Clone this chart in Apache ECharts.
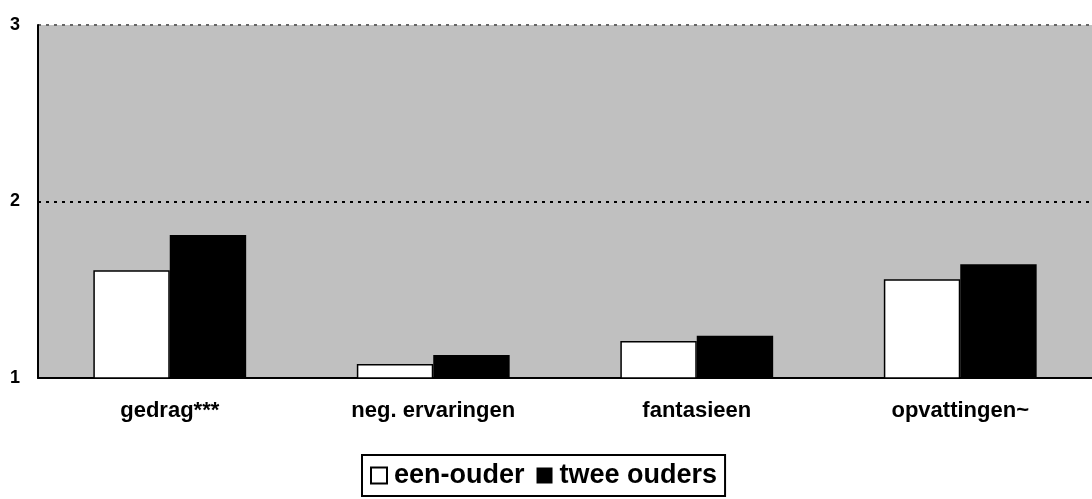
<!DOCTYPE html>
<html>
<head>
<meta charset="utf-8">
<script src="https://cdn.jsdelivr.net/npm/echarts@6/dist/echarts.min.js"></script>
<style>
html,body{margin:0;padding:0;background:#fff}
#main{width:1092px;height:499px}
</style>
</head>
<body>
<div id="main"></div>
<script>
// categorieen en gemiddelden
var categories = ['gedrag***', 'neg. ervaringen', 'fantasieen', 'opvattingen~']
var eenOuder = [1.61, 1.08, 1.21, 1.56]
var tweeOuders = [1.81, 1.13, 1.24, 1.645]
var yTicks = [1, 2, 3]

var myChart = echarts.init(document.getElementById('main'))

var option = {
    animation: false,
    textStyle: { fontFamily: 'Liberation Sans, Arial, sans-serif' },
    legend: {
        data: ['een-ouder', 'twee ouders'],
        left: 362,
        top: 455,
        icon: 'rect',
        itemWidth: 16,
        itemHeight: 16,
        itemGap: 12,
        padding: [7, 8, 7, 8],
        borderColor: '#000',
        borderWidth: 2,
        borderRadius: 0,
        textStyle: { fontSize: 27, fontWeight: 'bold', color: '#000', padding: [0, 0, 0, 2] }
    },
    grid: {
        left: 38,
        right: 0,
        top: 25,
        bottom: 121,
        show: true,
        backgroundColor: '#c0c0c0',
        borderWidth: 0
    },
    xAxis: {
        type: 'category',
        data: categories,
        axisLine: { lineStyle: { color: '#000', width: 2 } },
        axisTick: { show: false },
        axisLabel: { fontSize: 22, fontWeight: 'bold', color: '#000', margin: 22 }
    },
    yAxis: {
        type: 'value',
        min: yTicks[0],
        max: yTicks[yTicks.length - 1],
        interval: 1,
        axisLine: { show: true, lineStyle: { color: '#000', width: 2 } },
        axisTick: { show: false },
        axisLabel: { fontSize: 18, fontWeight: 'bold', color: '#000', margin: 18 },
        splitLine: {
            show: true,
            lineStyle: { color: ['transparent', '#000', '#666'], width: 2, type: [3, 5] }
        }
    },
    series: [
        {
            name: 'een-ouder',
            type: 'bar',
            data: eenOuder,
            barGap: '0%',
            barCategoryGap: '42%',
            itemStyle: { color: '#fff', borderColor: '#000', borderWidth: 1.5 }
        },
        {
            name: 'twee ouders',
            type: 'bar',
            data: tweeOuders,
            itemStyle: { color: '#000' }
        }
    ]
}
myChart.setOption(option)
</script>
</body>
</html>
